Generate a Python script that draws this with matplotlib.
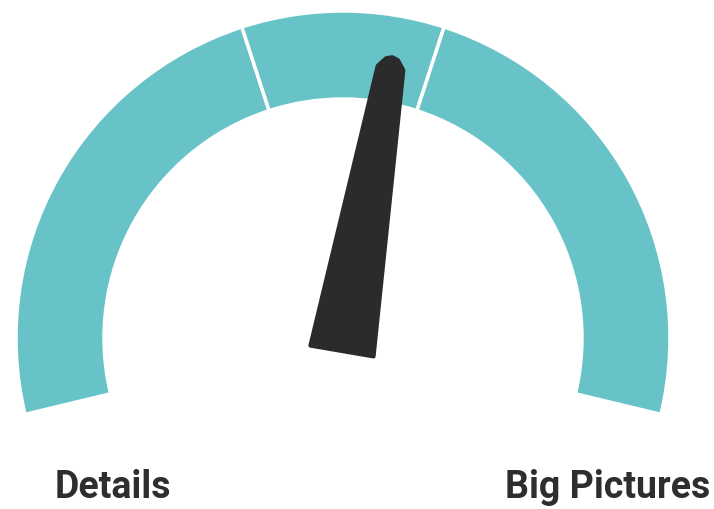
import numpy as np
import matplotlib
matplotlib.use("Agg")
import matplotlib.pyplot as plt
from matplotlib.patches import Wedge, Polygon

# gauge values (0..100 scale mapped onto the arc)
SEGMENT_BREAKS = [0, 41.3, 58.7, 100]
NEEDLE_VALUE = 54.7
LABELS = ["Details", "Big Pictures"]

TEAL = "#67c3c8"
DARK = "#2b2b2b"
W, H = 714, 510

START_DEG, END_DEG = 193.5, -13.5
CX, CY = 343, H - 339
R_OUT, R_IN = 327, 239


def val2deg(v):
    return START_DEG + (END_DEG - START_DEG) * v / 100.0


fig = plt.figure(figsize=(W / 100, H / 100), dpi=100)
ax = fig.add_axes([0, 0, 1, 1])
ax.set_xlim(0, W)
ax.set_ylim(0, H)
ax.set_aspect("equal")
ax.axis("off")

for a, b in zip(SEGMENT_BREAKS[:-1], SEGMENT_BREAKS[1:]):
    ax.add_patch(Wedge((CX, CY), R_OUT, val2deg(b), val2deg(a),
                       width=R_OUT - R_IN, facecolor=TEAL,
                       edgecolor="white", linewidth=2.5))

# needle
ang = np.radians(val2deg(NEEDLE_VALUE))
px, py = 342, H - 352
ux, uy = np.cos(ang), np.sin(ang)
nx, ny = -uy, ux
L, hb, ht = 287, 32, 13
pts = [
    (px + nx * hb, py + ny * hb),
    (px - nx * hb, py - ny * hb),
    (px + ux * L - nx * ht, py + uy * L - ny * ht),
    (px + ux * (L + 9) - nx * 6, py + uy * (L + 9) - ny * 6),
    (px + ux * (L + 11), py + uy * (L + 11)),
    (px + ux * (L + 9) + nx * 6, py + uy * (L + 9) + ny * 6),
    (px + ux * L + nx * ht, py + uy * L + ny * ht),
]
ax.add_patch(Polygon(pts, closed=True, facecolor=DARK, edgecolor=DARK,
                     linewidth=3, joinstyle="round", zorder=5))

ax.text(55, H - 498, LABELS[0], fontsize=27, fontweight="bold",
        family="Roboto", color="#2e2e2e", ha="left", va="baseline")
ax.text(710, H - 498, LABELS[1], fontsize=27, fontweight="bold",
        family="Roboto", color="#2e2e2e", ha="right", va="baseline")

fig.savefig("out.png", dpi=100, facecolor="white")
